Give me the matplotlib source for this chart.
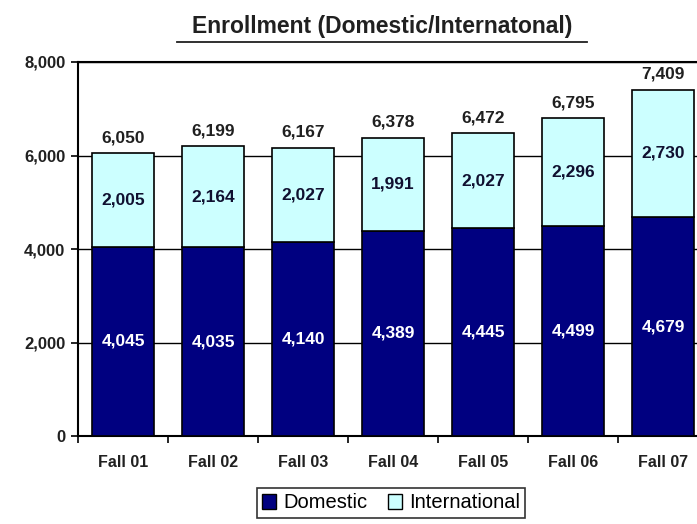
import matplotlib
matplotlib.use("Agg")
import matplotlib.pyplot as plt
from matplotlib.patches import Patch
from matplotlib.ticker import FuncFormatter, FixedLocator
import matplotlib.font_manager as fm

categories = ["Fall 01", "Fall 02", "Fall 03", "Fall 04", "Fall 05", "Fall 06", "Fall 07"]
domestic = [4045, 4035, 4140, 4389, 4445, 4499, 4679]
international = [2005, 2164, 2027, 1991, 2027, 2296, 2730]
totals = [6050, 6199, 6167, 6378, 6472, 6795, 7409]

names = {f.name for f in fm.fontManager.ttflist}
fam = ["Liberation Sans Narrow", "Liberation Sans", "DejaVu Sans"]
fam = [f for f in fam if f in names] or ["DejaVu Sans"]
plt.rcParams['font.family'] = fam

NAVY = "#000080"
CYAN = "#CCFFFF"

fig = plt.figure(figsize=(6.97, 5.24), dpi=100)
ax = fig.add_axes([78/697, 88/524, 630/697, 374/524])

x = list(range(len(categories)))
w = 0.68
ax.bar(x, domestic, width=w, color=NAVY, edgecolor="black", linewidth=1.2, zorder=3, label="Domestic")
ax.bar(x, international, bottom=domestic, width=w, color=CYAN, edgecolor="black", linewidth=1.2, zorder=3, label="International")

for i in x:
    ax.text(i, domestic[i] / 2, f"{domestic[i]:,}", ha="center", va="center",
            color="white", fontsize=12.5, fontweight="bold", zorder=4)
    ax.text(i, domestic[i] + international[i] / 2, f"{international[i]:,}", ha="center", va="center",
            color="#101030", fontsize=12.5, fontweight="bold", zorder=4)
    ax.text(i, totals[i] + 170, f"{totals[i]:,}", ha="center", va="bottom",
            color="#202020", fontsize=12.5, fontweight="bold", zorder=4)

ax.set_xlim(-0.5, len(categories) - 0.5)
ax.set_ylim(0, 8000)
ax.set_yticks([0, 2000, 4000, 6000, 8000])
ax.yaxis.set_major_formatter(FuncFormatter(lambda v, p: f"{int(v):,}"))
ax.grid(axis="y", color="black", linewidth=1.0, zorder=0)
ax.set_axisbelow(True)

ax.xaxis.set_major_locator(FixedLocator([i - 0.5 for i in range(len(categories) + 1)]))
ax.xaxis.set_major_formatter(FuncFormatter(lambda v, p: ""))
ax.xaxis.set_minor_locator(FixedLocator(x))
ax.set_xticklabels(categories, minor=True)
ax.tick_params(axis="x", which="minor", length=0, pad=14, labelsize=11.5)
ax.tick_params(axis="x", which="major", length=5, width=1.2, direction="out")
ax.tick_params(axis="y", length=5, width=1.2, direction="out", labelsize=12, pad=4)
for lab in ax.get_xticklabels(minor=True) + ax.get_yticklabels():
    lab.set_fontweight("bold")
    lab.set_color("#202020")

for s in ["left", "bottom", "top"]:
    ax.spines[s].set_linewidth(1.5)
ax.spines["right"].set_visible(False)

fig.text(382/697, 1 - 27/524, "Enrollment (Domestic/Internatonal)", ha="center", va="center",
         fontsize=16.5, fontweight="bold", color="#202020")
fig.add_artist(plt.Line2D([177/697, 587/697], [1 - 42/524, 1 - 42/524], color="#202020", linewidth=1.3))

handles = [Patch(facecolor=NAVY, edgecolor="black"), Patch(facecolor=CYAN, edgecolor="black")]
leg = fig.legend(handles, ["Domestic", "International"], loc="center", bbox_to_anchor=(391/697, 1 - 503/524),
                 ncol=2, frameon=True, fancybox=False, edgecolor="black", fontsize=14.5,
                 handlelength=0.7, handleheight=0.7, handletextpad=0.35, columnspacing=1.0,
                 borderpad=0.25, borderaxespad=0.0)
leg.get_frame().set_linewidth(1.2)

fig.savefig("out.png", dpi=100)
